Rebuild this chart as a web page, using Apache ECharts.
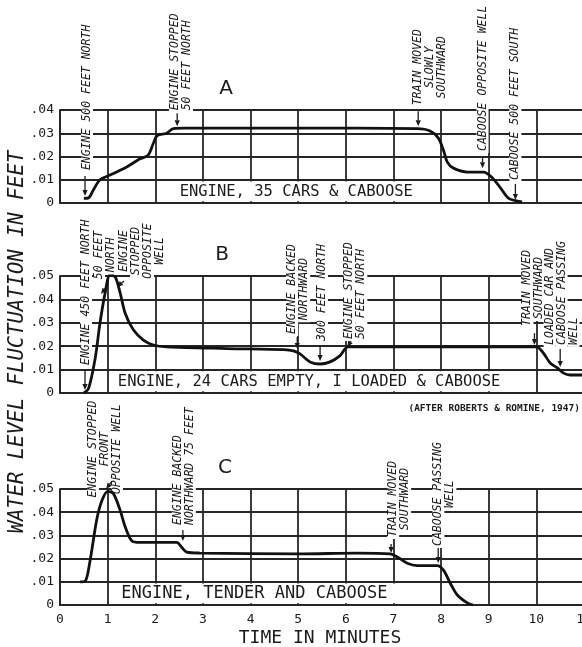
<!DOCTYPE html>
<html><head><meta charset="utf-8">
<script src="https://cdn.jsdelivr.net/npm/echarts@6/dist/echarts.min.js"></script>
<style>html,body{margin:0;padding:0;background:#fff}#c{width:582px;height:647px}</style>
</head><body><div id="c"></div>
<script>
// ---------------- DATA ----------------
const timeLabels = ['0','1','2','3','4','5','6','7','8','9','10','11'];
const levelLabels = ['0','.01','.02','.03','.04','.05'];
const panelLetters = ['A','B','C'];
const panelMax = [0.04, 0.05, 0.05];

// Panel A: Engine, 35 cars & caboose
const tA = [0.5,0.6,0.7,0.84,1.05,1.4,1.68,1.85,1.96,2.04,2.24,2.38,2.6,5.0,7.5,7.77,7.94,8.05,8.13,8.26,8.55,8.89,9.07,9.25,9.42,9.7];
const vA = [0.002,0.0022,0.0056,0.0100,0.012,0.0155,0.019,0.0206,0.0257,0.029,0.030,0.032,0.0322,0.0322,0.032,0.031,0.028,0.0227,0.0176,0.015,0.0133,0.0133,0.011,0.0064,0.002,0.0005];
// Panel B: Engine, 24 cars empty, 1 loaded & caboose
const tB = [0.5,0.6,0.74,0.84,0.95,1.05,1.16,1.26,1.37,1.54,1.75,1.96,2.24,3.5,4.7,4.9,5.04,5.25,5.46,5.67,5.88,6.05,8.0,10.0,10.15,10.29,10.44,10.57,10.71,11.0];
const vB = [0,0.002,0.015,0.030,0.043,0.0505,0.0496,0.043,0.034,0.027,0.0226,0.0205,0.0197,0.019,0.0185,0.018,0.0167,0.0133,0.0124,0.0133,0.016,0.0197,0.0197,0.0197,0.017,0.0128,0.0107,0.0085,0.0077,0.0077];
// Panel C: Engine, tender and caboose
const tC = [0.42,0.53,0.63,0.77,0.88,1.0,1.12,1.26,1.37,1.51,1.68,2.45,2.55,2.66,2.94,5.0,6.24,6.93,7.08,7.29,7.5,7.92,8.05,8.19,8.34,8.55,8.67];
const vC = [0.01,0.0103,0.019,0.0366,0.045,0.049,0.048,0.041,0.0336,0.0276,0.027,0.027,0.025,0.0228,0.0224,0.022,0.0224,0.022,0.0207,0.018,0.017,0.017,0.015,0.0095,0.0043,0.0009,0];

const captions = ['ENGINE, 35 CARS & CABOOSE','ENGINE, 24 CARS EMPTY, I LOADED & CABOOSE','ENGINE, TENDER AND CABOOSE'];

const eventTextA = [['ENGINE 500 FEET NORTH'],['ENGINE STOPPED','50 FEET NORTH'],['TRAIN MOVED','SLOWLY','SOUTHWARD'],['CABOOSE OPPOSITE WELL'],['CABOOSE 500 FEET SOUTH']];
const eventTextB = [['ENGINE 450 FEET NORTH'],['50 FEET','NORTH'],['ENGINE','STOPPED','OPPOSITE','WELL'],['ENGINE BACKED','NORTHWARD'],['300 FEET NORTH'],['ENGINE STOPPED','50 FEET NORTH'],['TRAIN MOVED','SOUTHWARD'],['LOADED CAR AND','CABOOSE PASSING','WELL']];
const eventTextC = [['ENGINE STOPPED','FRONT','OPPOSITE WELL'],['ENGINE BACKED','NORTHWARD 75 FEET'],['TRAIN MOVED','SOUTHWARD'],['CABOOSE PASSING','WELL']];

const yTitle = 'WATER LEVEL FLUCTUATION IN FEET';
const xTitle = 'TIME IN MINUTES';
const sourceNote = '(AFTER ROBERTS & ROMINE, 1947)';

// ---------------- LAYOUT (label placement, in axis units) ----------------
const eventLayoutA = [
  {tail:[0.525,0.0116], tip:[0.525,0.003], text:[0.567,0.0133], align:'left'},
  {tail:[2.46,0.0386], tip:[2.46,0.033], text:[2.54,0.039], align:'left'},
  {tail:[7.52,0.0395], tip:[7.52,0.033], text:[7.77,0.0584], align:'center'},
  {tail:[8.87,0.0202], tip:[8.87,0.015], text:[8.87,0.0215], align:'left'},
  {tail:[9.56,0.0082], tip:[9.56,0.0013], text:[9.56,0.009], align:'left'}
];
const eventLayoutB = [
  {tail:[0.525,0.0098], tip:[0.525,0.0013], text:[0.546,0.0111], align:'left'},
  {tail:[0.97,0.0453], tip:[0.86,0.0423], text:[0.945,0.059], align:'center'},
  {tail:[1.345,0.0479], tip:[1.197,0.0453], text:[1.72,0.0607], align:'center'},
  {tail:[4.98,0.0239], tip:[4.98,0.0188], text:[5.0,0.0444], align:'center'},
  {tail:[5.46,0.0205], tip:[5.46,0.0137], text:[5.5,0.0214], align:'left'},
  {tail:[6.11,0.0222], tip:[6.03,0.0197], text:[6.2,0.0222], align:'left'},
  {tail:[9.96,0.0256], tip:[9.96,0.0205], text:[9.94,0.0449], align:'center'},
  {tail:[10.5,0.0188], tip:[10.5,0.0111], text:[10.53,0.0197], align:'left'}
];
const eventLayoutC = [
  {tail:[1.09,0.0534], tip:[0.97,0.0500], text:[0.945,0.0672], align:'center'},
  {tail:[2.58,0.0323], tip:[2.58,0.0276], text:[2.6,0.0336], align:'left'},
  {tail:[6.95,0.0263], tip:[6.95,0.0224], text:[7.12,0.0457], align:'center'},
  {tail:[7.94,0.0246], tip:[7.94,0.0181], text:[8.07,0.0478], align:'center'}
];
const captionBands = [[2.2,7.56],[1.09,9.87],[1.09,7.14]];
const captionAt = [4.96,5.23,4.08];
const captionSize = [15.5,15.5,17];

// ---------------- STYLE ----------------
const MONO = '"DejaVu Sans Mono", "Liberation Mono", monospace';
const INK = '#1b1b1b';
const GRIDC = '#262626';
const LINE_H = 12;

function arrowEls(p0, p1) {
  const dx = p1[0]-p0[0], dy = p1[1]-p0[1];
  const L = Math.hypot(dx, dy) || 1;
  const ux = dx/L, uy = dy/L, hl = 6, hw = 2.6;
  const bx = p1[0]-ux*hl, by = p1[1]-uy*hl;
  return [
    {type:'line', shape:{x1:p0[0], y1:p0[1], x2:bx, y2:by}, style:{stroke:INK, lineWidth:1.3}},
    {type:'polygon', shape:{points:[[p1[0],p1[1]],[bx-uy*hw, by+ux*hw],[bx+uy*hw, by-ux*hw]]}, style:{fill:INK}}
  ];
}

function eventRenderer(texts, layout) {
  return function (params, api) {
    const k = params.dataIndex, L = layout[k], lines = texts[k];
    const tail = api.coord(L.tail), tip = api.coord(L.tip), anchor = api.coord(L.text);
    const children = [];
    lines.forEach(function (s, i) {
      children.push({
        type:'text', x: anchor[0] + (i - (lines.length-1)/2) * LINE_H, y: anchor[1], rotation: Math.PI/2,
        style:{text:s, fontFamily:MONO, fontSize:11.5, fontStyle:'italic', fill:INK,
          align:L.align, textAlign:L.align, verticalAlign:'middle', textVerticalAlign:'middle',
          backgroundColor:'#fff', padding:[0,2], lineHeight:LINE_H}
      });
    });
    return {type:'group', children: children.concat(arrowEls(tail, tip))};
  };
}

function captionRenderer(k) {
  return function (params, api) {
    const b = captionBands[k];
    const p1 = api.coord([b[0], 0.01]), p2 = api.coord([b[1], 0]);
    const c = api.coord([captionAt[k], 0.005]);
    return {type:'group', children:[
      {type:'rect', shape:{x:p1[0], y:p1[1]+1.7, width:p2[0]-p1[0], height:p2[1]-p1[1]-3.4}, style:{fill:'#fff'}},
      {type:'text', x:c[0], y:c[1]+0.5, style:{text:captions[k], fontFamily:MONO, fontSize:captionSize[k], fill:INK,
        align:'center', textAlign:'center', verticalAlign:'middle', textVerticalAlign:'middle'}}
    ]};
  };
}

const gridBoxes = [
  {left:60, width:524, top:110, height:93, outerBoundsMode:'none', containLabel:false},
  {left:60, width:524, top:276, height:117, outerBoundsMode:'none', containLabel:false},
  {left:60, width:524, top:489, height:116, outerBoundsMode:'none', containLabel:false}
];

const lineStyleGrid = {color:GRIDC, width:1.8};
const xAxes = [0,1,2].map(function (i) {
  return {type:'value', gridIndex:i, min:0, max:11, interval:1,
    axisLine:{show:true, onZero:false, lineStyle:lineStyleGrid}, axisTick:{show:false},
    axisLabel:{show:i===2, margin:8, color:INK, fontFamily:MONO, fontSize:13,
      formatter:function (v) { return timeLabels[Math.round(v)]; }},
    splitLine:{show:true, lineStyle:lineStyleGrid}};
});
const yAxes = [0,1,2].map(function (i) {
  return {type:'value', gridIndex:i, min:0, max:panelMax[i], interval:0.01,
    axisLine:{show:true, lineStyle:lineStyleGrid}, axisTick:{show:false},
    axisLabel:{margin:6, color:INK, fontFamily:MONO, fontSize:13,
      formatter:function (v) { return levelLabels[Math.round(v*100)]; }},
    splitLine:{show:true, lineStyle:lineStyleGrid}};
});

const curves = [[tA,vA],[tB,vB],[tC,vC]];
const eventTexts = [eventTextA, eventTextB, eventTextC];
const eventLayouts = [eventLayoutA, eventLayoutB, eventLayoutC];

const series = [];
[0,1,2].forEach(function (i) {
  series.push({type:'custom', xAxisIndex:i, yAxisIndex:i, z:3, clip:false, silent:true,
    data:[[captionAt[i], 0.005]], renderItem:captionRenderer(i)});
  series.push({type:'custom', xAxisIndex:i, yAxisIndex:i, z:4, clip:false, silent:true,
    data:eventLayouts[i].map(function (L) { return [L.tip[0], L.tip[1]]; }),
    renderItem:eventRenderer(eventTexts[i], eventLayouts[i])});
  series.push({type:'line', xAxisIndex:i, yAxisIndex:i, z:5, showSymbol:false, smooth:0.3, silent:true,
    lineStyle:{color:'#111', width:2.8},
    data:curves[i][0].map(function (t, j) { return [t, curves[i][1][j]]; })});
});

const letterPos = [[226,89],[222,255],[225,468]];
const graphics = panelLetters.map(function (s, i) {
  return {type:'text', x:letterPos[i][0], y:letterPos[i][1],
    style:{text:s, fontFamily:'"DejaVu Sans", sans-serif', fontSize:20, fill:INK,
      align:'center', textAlign:'center', verticalAlign:'middle', textVerticalAlign:'middle'}};
});
graphics.push({type:'text', x:18, y:342, rotation:Math.PI/2,
  style:{text:yTitle, fontFamily:MONO, fontSize:20.5, fontStyle:'italic', fill:INK,
    align:'center', textAlign:'center', verticalAlign:'middle', textVerticalAlign:'middle'}});
graphics.push({type:'text', x:320, y:638,
  style:{text:xTitle, fontFamily:MONO, fontSize:18, fill:INK,
    align:'center', textAlign:'center', verticalAlign:'middle', textVerticalAlign:'middle'}});
graphics.push({type:'text', x:580, y:409,
  style:{text:sourceNote, fontFamily:MONO, fontSize:9.5, fontWeight:'bold', fill:INK,
    align:'right', textAlign:'right', verticalAlign:'middle', textVerticalAlign:'middle'}});

const chart = echarts.init(document.getElementById('c'), null, {renderer:'canvas'});
chart.setOption({
  animation:false,
  backgroundColor:'#fff',
  grid:gridBoxes,
  xAxis:xAxes,
  yAxis:yAxes,
  series:series,
  graphic:graphics
});
</script>
</body></html>
